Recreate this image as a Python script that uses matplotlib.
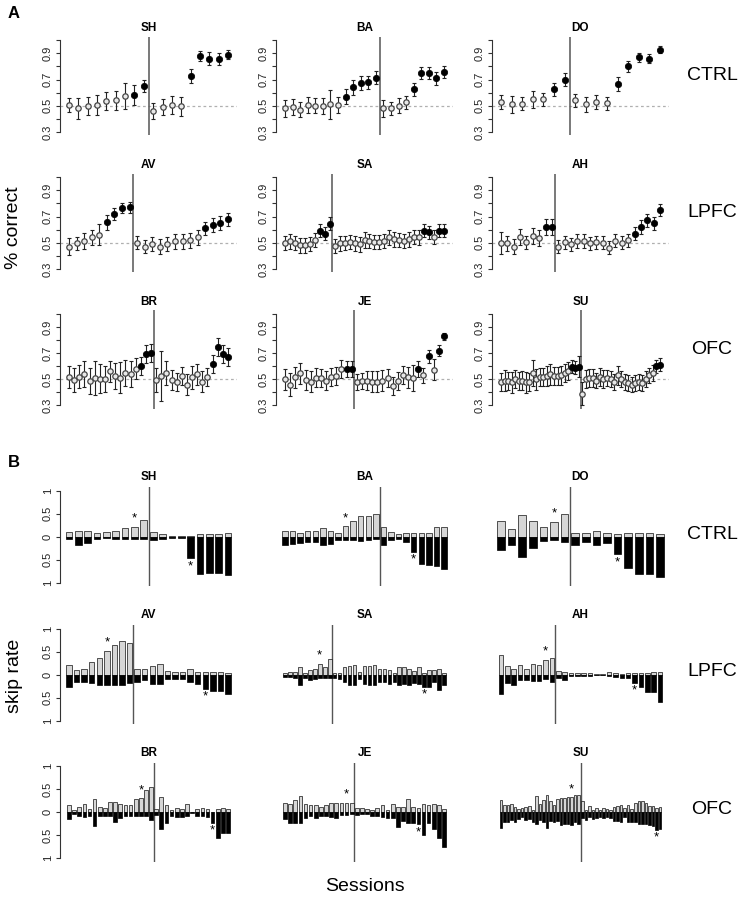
import matplotlib
matplotlib.use('Agg')
import matplotlib.pyplot as plt
import numpy as np

plt.rcParams['font.family'] = ['Liberation Sans', 'DejaVu Sans']

# ---------------- DATA ----------------
names = ['SH', 'BA', 'DO', 'AV', 'SA', 'AH', 'BR', 'JE', 'SU']
groups = ['CTRL', 'LPFC', 'OFC']
# number of sessions before the switch (vertical line)
split = [9, 13, 7, 9, 10, 9, 17, 14, 23]

# Panel A: proportion correct per session, error, significant (filled)
sh_acc = [0.505, 0.48, 0.50, 0.505, 0.535, 0.54, 0.575, 0.585, 0.65,
          0.46, 0.49, 0.505, 0.495, 0.73, 0.88, 0.86, 0.86, 0.89]
sh_err = [0.057, 0.08, 0.07, 0.075, 0.067, 0.07, 0.10, 0.077, 0.048,
          0.064, 0.061, 0.07, 0.07, 0.054, 0.035, 0.048, 0.045, 0.034]
sh_sig = [0, 0, 0, 0, 0, 0, 0, 1, 1, 0, 0, 0, 0, 1, 1, 1, 1, 1]

ba_acc = [0.48, 0.49, 0.47, 0.505, 0.50, 0.50, 0.51, 0.505, 0.57, 0.64, 0.675, 0.68, 0.715,
          0.48, 0.48, 0.50, 0.525, 0.625, 0.75, 0.75, 0.71, 0.755]
ba_err = [0.064, 0.06, 0.06, 0.058, 0.058, 0.06, 0.11, 0.058, 0.06, 0.055, 0.053, 0.05, 0.05,
          0.064, 0.052, 0.058, 0.051, 0.047, 0.047, 0.047, 0.05, 0.045]
ba_sig = [0, 0, 0, 0, 0, 0, 0, 0, 1, 1, 1, 1, 1, 0, 0, 0, 0, 1, 1, 1, 1, 1]

do_acc = [0.53, 0.51, 0.515, 0.55, 0.55, 0.625, 0.70,
          0.54, 0.51, 0.53, 0.52, 0.666, 0.80, 0.87, 0.86, 0.93]
do_err = [0.055, 0.065, 0.05, 0.065, 0.05, 0.05, 0.047,
          0.05, 0.06, 0.055, 0.05, 0.05, 0.04, 0.035, 0.035, 0.025]
do_sig = [0, 0, 0, 0, 0, 1, 1, 0, 0, 0, 0, 1, 1, 1, 1, 1]

av_acc = [0.47, 0.495, 0.515, 0.54, 0.56, 0.655, 0.72, 0.765, 0.77,
          0.50, 0.47, 0.49, 0.47, 0.49, 0.51, 0.51, 0.52, 0.54, 0.61, 0.635, 0.65, 0.68]
av_err = [0.064, 0.05, 0.06, 0.058, 0.08, 0.058, 0.048, 0.041, 0.045,
          0.05, 0.05, 0.057, 0.06, 0.053, 0.058, 0.058, 0.058, 0.055, 0.051, 0.051, 0.051, 0.051]
av_sig = [0, 0, 0, 0, 0, 1, 1, 1, 1, 0, 0, 0, 0, 0, 0, 0, 0, 0, 1, 1, 1, 1]

sa_acc = [0.50, 0.51, 0.50, 0.48, 0.48, 0.49, 0.52, 0.59, 0.57, 0.645,
          0.477, 0.495, 0.50, 0.505, 0.495, 0.487, 0.52, 0.515, 0.505, 0.505, 0.515, 0.54,
          0.525, 0.52, 0.515, 0.525, 0.545, 0.54, 0.59, 0.58, 0.545, 0.59, 0.59]
sa_err = [0.055, 0.055, 0.055, 0.055, 0.055, 0.055, 0.055, 0.05, 0.05, 0.05,
          0.055, 0.055, 0.055, 0.055, 0.055, 0.055, 0.06, 0.055, 0.055, 0.055, 0.055, 0.055,
          0.055, 0.055, 0.055, 0.055, 0.055, 0.055, 0.05, 0.05, 0.055, 0.05, 0.05]
sa_sig = [0, 0, 0, 0, 0, 0, 0, 1, 1, 1,
          0, 0, 0, 0, 0, 0, 0, 0, 0, 0, 0, 0, 0, 0, 0, 0, 0, 0, 1, 1, 0, 1, 1]

ah_acc = [0.50, 0.495, 0.47, 0.545, 0.505, 0.55, 0.535, 0.62, 0.62,
          0.47, 0.505, 0.487, 0.513, 0.513, 0.495, 0.505, 0.50, 0.46, 0.515, 0.50, 0.52,
          0.57, 0.62, 0.67, 0.65, 0.75]
ah_err = [0.085, 0.06, 0.06, 0.06, 0.05, 0.06, 0.06, 0.06, 0.06,
          0.05, 0.05, 0.05, 0.05, 0.05, 0.05, 0.05, 0.05, 0.05, 0.05, 0.05, 0.05,
          0.05, 0.05, 0.05, 0.05, 0.045]
ah_sig = [0, 0, 0, 0, 0, 0, 0, 1, 1,
          0, 0, 0, 0, 0, 0, 0, 0, 0, 0, 0, 0, 1, 1, 1, 1, 1]

br_acc = [0.515, 0.495, 0.52, 0.54, 0.49, 0.508, 0.505, 0.505, 0.56, 0.525, 0.513, 0.546,
          0.54, 0.58, 0.60, 0.695, 0.70,
          0.495, 0.525, 0.55, 0.495, 0.48, 0.525, 0.46, 0.515, 0.54, 0.48, 0.515,
          0.615, 0.745, 0.695, 0.67]
br_err = [0.083, 0.09, 0.09, 0.1, 0.1, 0.13, 0.11, 0.1, 0.08, 0.1, 0.12, 0.1,
          0.1, 0.08, 0.07, 0.07, 0.07,
          0.09, 0.19, 0.09, 0.08, 0.07, 0.07, 0.08, 0.09, 0.08, 0.08, 0.07,
          0.07, 0.07, 0.07, 0.07]
br_sig = [0, 0, 0, 0, 0, 0, 0, 0, 0, 0, 0, 0, 0, 0, 1, 1, 1,
          0, 0, 0, 0, 0, 0, 0, 0, 0, 0, 0, 1, 1, 1, 1]

je_acc = [0.50, 0.46, 0.515, 0.545, 0.495, 0.48, 0.513, 0.508, 0.49, 0.515, 0.525, 0.58,
          0.577, 0.577,
          0.48, 0.485, 0.49, 0.48, 0.48, 0.49, 0.508, 0.45, 0.487, 0.533, 0.515, 0.513,
          0.577, 0.53, 0.675, 0.575, 0.72, 0.828]
je_err = [0.08, 0.09, 0.08, 0.08, 0.08, 0.08, 0.07, 0.07, 0.07, 0.07, 0.07, 0.07,
          0.06, 0.06,
          0.06, 0.06, 0.07, 0.08, 0.08, 0.08, 0.07, 0.07, 0.07, 0.07, 0.08, 0.1,
          0.06, 0.06, 0.05, 0.08, 0.04, 0.03]
je_sig = [0, 0, 0, 0, 0, 0, 0, 0, 0, 0, 0, 0, 1, 1,
          0, 0, 0, 0, 0, 0, 0, 0, 0, 0, 0, 0, 1, 0, 1, 0, 1, 1]

su_acc = [0.477, 0.49, 0.487, 0.477, 0.50, 0.487, 0.49, 0.477, 0.48, 0.55, 0.50, 0.52,
          0.515, 0.525, 0.54, 0.525, 0.525, 0.53, 0.55, 0.565, 0.597, 0.587, 0.597,
          0.39, 0.50, 0.51, 0.51, 0.49, 0.52, 0.50, 0.51, 0.50, 0.48, 0.53, 0.50,
          0.48, 0.47, 0.46, 0.47, 0.48, 0.47, 0.50, 0.53, 0.55, 0.60, 0.61]
su_err = [0.07, 0.08, 0.07, 0.08, 0.07, 0.07, 0.07, 0.08, 0.07, 0.1, 0.08, 0.07,
          0.07, 0.08, 0.08, 0.07, 0.07, 0.07, 0.07, 0.07, 0.05, 0.05, 0.08,
          0.09, 0.07, 0.07, 0.07, 0.06, 0.07, 0.07, 0.06, 0.06, 0.06, 0.07, 0.06,
          0.06, 0.06, 0.06, 0.06, 0.06, 0.06, 0.06, 0.06, 0.06, 0.05, 0.05]
su_sig = [0, 0, 0, 0, 0, 0, 0, 0, 0, 0, 0, 0, 0, 0, 0, 0, 0, 0, 0, 0, 1, 1, 1,
          0, 0, 0, 0, 0, 0, 0, 0, 0, 0, 0, 0, 0, 0, 0, 0, 0, 0, 0, 0, 0, 1, 1]

# Panel B: skip rates (upward grey bars, downward black bars), asterisk sessions
sh_up = [0.11, 0.13, 0.13, 0.07, 0.11, 0.12, 0.18, 0.22, 0.36,
         0.11, 0.06, 0.015, 0.015, 0.01, 0.06, 0.06, 0.06, 0.07]
sh_dn = [0.06, 0.18, 0.13, 0.06, 0.02, 0.04, 0.04, 0.05, 0.05,
         0.07, 0.04, 0.02, 0.02, 0.47, 0.80, 0.78, 0.78, 0.83]
ba_up = [0.13, 0.13, 0.07, 0.12, 0.12, 0.18, 0.13, 0.09, 0.23, 0.34, 0.45, 0.45, 0.49,
         0.2, 0.11, 0.06, 0.09, 0.09, 0.09, 0.09, 0.2, 0.2]
ba_dn = [0.18, 0.16, 0.13, 0.11, 0.12, 0.17, 0.16, 0.07, 0.07, 0.07, 0.09, 0.07, 0.06,
         0.18, 0.07, 0.05, 0.12, 0.33, 0.6, 0.62, 0.64, 0.7]
do_up = [0.34, 0.17, 0.47, 0.34, 0.2, 0.33, 0.5,
         0.09, 0.09, 0.12, 0.09, 0.06, 0.07, 0.07, 0.07, 0.05]
do_dn = [0.28, 0.17, 0.44, 0.24, 0.09, 0.07, 0.11,
         0.17, 0.11, 0.17, 0.13, 0.38, 0.67, 0.81, 0.8, 0.88]
av_up = [0.2, 0.11, 0.13, 0.28, 0.36, 0.52, 0.64, 0.73, 0.69,
         0.13, 0.13, 0.19, 0.24, 0.09, 0.06, 0.06, 0.13, 0.06, 0.06, 0.06, 0.06, 0.04]
av_dn = [0.27, 0.15, 0.15, 0.18, 0.22, 0.22, 0.22, 0.22, 0.18,
         0.16, 0.11, 0.2, 0.2, 0.09, 0.09, 0.09, 0.16, 0.2, 0.3, 0.36, 0.36, 0.43]
sa_up = [0.04, 0.06, 0.06, 0.17, 0.04, 0.11, 0.13, 0.24, 0.17, 0.35,
         0.04, 0.04, 0.17, 0.18, 0.22, 0.06, 0.18, 0.19, 0.22, 0.13, 0.13, 0.11,
         0.04, 0.17, 0.17, 0.13, 0.07, 0.17, 0.04, 0.1, 0.1, 0.13, 0.04]
sa_dn = [0.05, 0.05, 0.07, 0.23, 0.07, 0.11, 0.09, 0.07, 0.07, 0.07,
         0.07, 0.1, 0.16, 0.22, 0.22, 0.09, 0.2, 0.22, 0.23, 0.16, 0.16, 0.2,
         0.16, 0.22, 0.2, 0.22, 0.18, 0.2, 0.26, 0.27, 0.16, 0.33, 0.23]
ah_up = [0.42, 0.18, 0.13, 0.22, 0.13, 0.24, 0.2, 0.33, 0.37,
         0.08, 0.06, 0.04, 0.04, 0.04, 0.04, 0.02, 0.02, 0.06, 0.04, 0.02, 0.04,
         0.04, 0.04, 0.04, 0.06, 0.06]
ah_dn = [0.43, 0.18, 0.22, 0.12, 0.12, 0.14, 0.14, 0.09, 0.15,
         0.07, 0.11, 0.03, 0.03, 0.03, 0.03, 0.015, 0.015, 0.03, 0.05, 0.07, 0.07,
         0.18, 0.27, 0.37, 0.37, 0.6]
br_up = [0.16, 0.04, 0.11, 0.18, 0.07, 0.29, 0.11, 0.09, 0.23, 0.23, 0.18, 0.16, 0.16,
         0.29, 0.31, 0.49, 0.56,
         0.07, 0.34, 0.15, 0.04, 0.09, 0.07, 0.18, 0.0, 0.07, 0.09, 0.07, 0.015, 0.07, 0.09, 0.07]
br_dn = [0.15, 0.04, 0.07, 0.11, 0.07, 0.29, 0.09, 0.09, 0.09, 0.2, 0.13, 0.09, 0.09,
         0.09, 0.09, 0.09, 0.17,
         0.06, 0.37, 0.24, 0.07, 0.11, 0.11, 0.09, 0.02, 0.07, 0.09, 0.11, 0.23, 0.55, 0.46, 0.45]
je_up = [0.2, 0.18, 0.26, 0.36, 0.18, 0.15, 0.15, 0.11, 0.16, 0.21, 0.21, 0.21, 0.21, 0.21,
         0.09, 0.09, 0.07, 0.05, 0.09, 0.16, 0.05, 0.18, 0.11, 0.11, 0.29, 0.12, 0.09,
         0.18, 0.16, 0.18, 0.15, 0.07]
je_dn = [0.15, 0.24, 0.23, 0.24, 0.13, 0.09, 0.13, 0.09, 0.08, 0.11, 0.13, 0.06, 0.06, 0.04,
         0.06, 0.04, 0.04, 0.07, 0.08, 0.11, 0.13, 0.13, 0.33, 0.19, 0.23, 0.24, 0.26,
         0.5, 0.24, 0.36, 0.55, 0.75]
su_up = [0.26, 0.15, 0.15, 0.18, 0.11, 0.07, 0.09, 0.12, 0.13, 0.05, 0.35, 0.18, 0.27,
         0.38, 0.24, 0.15, 0.28, 0.31, 0.31, 0.33, 0.33, 0.37, 0.37,
         0.24, 0.04, 0.13, 0.05, 0.09, 0.04, 0.09, 0.07, 0.06, 0.11, 0.13, 0.16, 0.1,
         0.15, 0.08, 0.2, 0.24, 0.25, 0.2, 0.13, 0.13, 0.09, 0.12]
su_dn = [0.35, 0.2, 0.22, 0.17, 0.2, 0.14, 0.11, 0.17, 0.14, 0.2, 0.25, 0.16, 0.22,
         0.35, 0.18, 0.22, 0.18, 0.27, 0.26, 0.26, 0.27, 0.21, 0.25,
         0.12, 0.16, 0.1, 0.15, 0.12, 0.1, 0.13, 0.1, 0.12, 0.18, 0.18, 0.2, 0.1,
         0.2, 0.22, 0.22, 0.25, 0.25, 0.25, 0.28, 0.3, 0.38, 0.36]
star_up = [8, 9, 6, 6, 8, 8, 15, 13, 21]
star_dn = [14, 18, 12, 19, 29, 22, 29, 27, 45]

acc_all = [sh_acc, ba_acc, do_acc, av_acc, sa_acc, ah_acc, br_acc, je_acc, su_acc]
err_all = [sh_err, ba_err, do_err, av_err, sa_err, ah_err, br_err, je_err, su_err]
sig_all = [sh_sig, ba_sig, do_sig, av_sig, sa_sig, ah_sig, br_sig, je_sig, su_sig]
up_all = [sh_up, ba_up, do_up, av_up, sa_up, ah_up, br_up, je_up, su_up]
dn_all = [sh_dn, ba_dn, do_dn, av_dn, sa_dn, ah_dn, br_dn, je_dn, su_dn]

acc_ticks = [0.3, 0.4, 0.5, 0.6, 0.7, 0.8, 0.9, 1.0]
acc_labels = ['0.3', '', '0.5', '', '0.7', '', '0.9', '']
skip_ticks = [-1, -0.5, 0, 0.5, 1]
skip_labels = ['1', '0.5', '0', '0.5', '1']

# ---------------- LAYOUT (pixels) ----------------
W, H = 743, 897
fig = plt.figure(figsize=(W / 100, H / 100), dpi=100)

col_x = [60, 276, 492]
col_w = 177
edge_pad = 9
rowA_top = [36.7, 173.7, 310.3]
rowA_h = 98.8
rowB_top = [487, 625, 762.6]
rowB_h = 99.4
AX_COL = '#333333'


def add_ax(x, top, w, h):
    return fig.add_axes([x / W, 1 - (top + h) / H, w / W, h / H])


def set_x(ax, n):
    s = (col_w - 2 * edge_pad) / (n - 1)
    pad = edge_pad / s
    ax.set_xlim(1 - pad, n + pad)


def ftext(x, y, s, **kw):
    fig.text(x / W, 1 - y / H, s, **kw)


for i, name in enumerate(names):
    r, c = divmod(i, 3)
    acc = np.array(acc_all[i])
    err = np.array(err_all[i])
    sig = np.array(sig_all[i]).astype(bool)
    n = len(acc)
    x = np.arange(1, n + 1)

    # ---- panel A ----
    ax = add_ax(col_x[c], rowA_top[r], col_w, rowA_h)
    ax.patch.set_alpha(0)
    set_x(ax, n)
    ax.set_ylim(0.272, 1.028)
    ax.axhline(0.5, color='#b0b0b0', lw=0.9, ls=(0, (2.2, 2.2)), zorder=1)
    ax.axvline(split[i] + 0.5, color='#555555', lw=1.1, zorder=1)
    ax.errorbar(x, acc, yerr=err, fmt='none', ecolor='#222222', elinewidth=0.8,
                capsize=1.6, capthick=0.8, zorder=2)
    ax.plot(x[~sig], acc[~sig], 'o', ms=3.9, mfc='#e8e8e8', mec='#444444', mew=0.9, zorder=3)
    ax.plot(x[sig], acc[sig], 'o', ms=4.6, mfc='black', mec='black', mew=0.5, zorder=3)
    for sp in ['top', 'right', 'bottom']:
        ax.spines[sp].set_visible(False)
    ax.spines['left'].set_bounds(0.3, 1.0)
    ax.spines['left'].set_color(AX_COL)
    ax.spines['left'].set_linewidth(0.8)
    ax.set_xticks([])
    ax.set_yticks(acc_ticks)
    ax.set_yticklabels(acc_labels, rotation=90, va='center')
    ax.tick_params(axis='y', length=3, width=0.8, color=AX_COL, labelsize=8,
                   labelcolor='#222222', pad=2)
    ax.text(0.5, 1 + 8.5 / rowA_h, name, transform=ax.transAxes, ha='center',
            va='center', fontsize=8.5, fontweight='bold')

    # ---- panel B ----
    up = np.array(up_all[i])
    dn = np.array(dn_all[i])
    bx = add_ax(col_x[c], rowB_top[r], col_w, rowB_h)
    bx.patch.set_alpha(0)
    set_x(bx, n)
    bx.set_ylim(-1.08, 1.08)
    bx.bar(x, up, width=0.72, color='#d6d6d6', edgecolor='#111111', linewidth=0.5, zorder=2)
    bx.bar(x, -dn, width=0.72, color='black', edgecolor='black', linewidth=0.5, zorder=2)
    bx.axvline(split[i] + 0.5, color='#555555', lw=1.0, zorder=1)
    su_i = star_up[i] - 1
    sd_i = star_dn[i] - 1
    bx.text(x[su_i], up[su_i] + 0.04, '*', ha='center', va='bottom', fontsize=9.5)
    bx.text(x[sd_i], -dn[sd_i] - 0.30, '*', ha='center', va='bottom', fontsize=9.5)
    for sp in ['top', 'right', 'bottom']:
        bx.spines[sp].set_visible(False)
    bx.set_xticks([])
    if c == 0:
        bx.spines['left'].set_bounds(-1, 1)
        bx.spines['left'].set_color(AX_COL)
        bx.spines['left'].set_linewidth(0.8)
        bx.set_yticks(skip_ticks)
        bx.set_yticklabels(skip_labels, rotation=90, va='center')
        bx.tick_params(axis='y', length=3, width=0.8, color=AX_COL, labelsize=8,
                       labelcolor='#222222', pad=2)
    else:
        bx.spines['left'].set_visible(False)
        bx.set_yticks([])
    bx.text(0.5, 1 + 10 / rowB_h, name, transform=bx.transAxes, ha='center',
            va='center', fontsize=8.5, fontweight='bold')

# group labels
for r, g in enumerate(groups):
    ftext(712, rowA_top[r] + 39, g, ha='center', va='center', fontsize=14)
    ftext(712, rowB_top[r] + 47, g, ha='center', va='center', fontsize=14)

ftext(14, 14, 'A', ha='center', va='center', fontsize=12, fontweight='bold')
ftext(14, 462, 'B', ha='center', va='center', fontsize=12, fontweight='bold')
ftext(14, 228, '% correct', rotation=90, ha='center', va='center', fontsize=14)
ftext(15, 676, 'skip rate', rotation=90, ha='center', va='center', fontsize=14)
ftext(365, 886, 'Sessions', ha='center', va='center', fontsize=14)

fig.savefig('out.png', dpi=100)
